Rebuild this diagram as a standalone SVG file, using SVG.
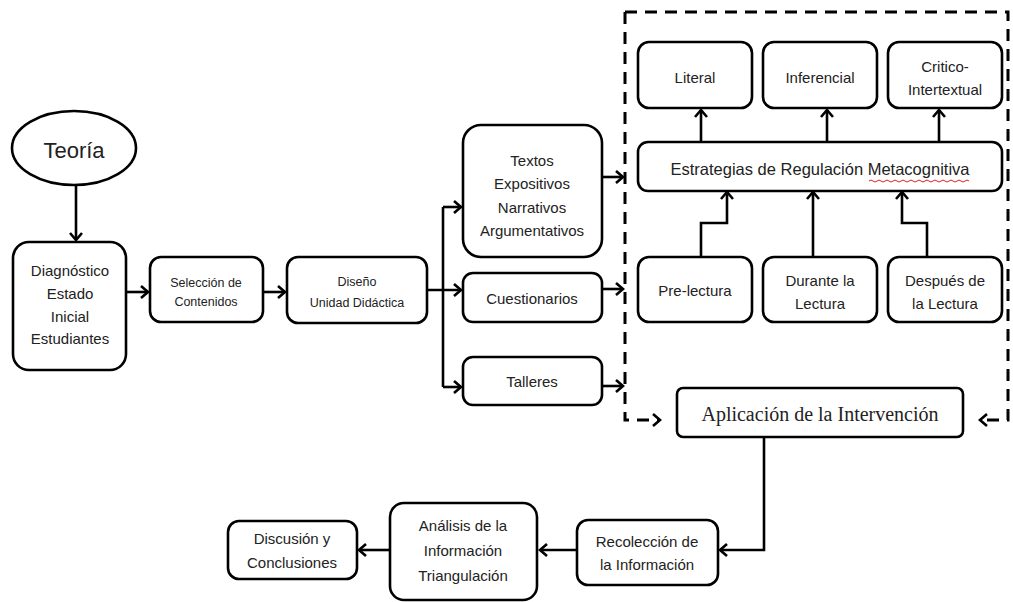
<svg xmlns="http://www.w3.org/2000/svg" width="1013" height="602" viewBox="0 0 1013 602">
<defs>
<marker id="ah" markerUnits="userSpaceOnUse" markerWidth="14" markerHeight="16" refX="10" refY="7" orient="auto">
<path d="M3,1 L10,7 L3,13" fill="none" stroke="#000" stroke-width="2.6" stroke-linejoin="miter"/>
</marker>
</defs>
<style>
.b{fill:#fff;stroke:#000;stroke-width:2.6}
.t{font-family:"Liberation Sans",Arial,sans-serif;font-size:15px;fill:#222;text-anchor:middle;dominant-baseline:central}
.s{font-size:12.5px}
.c{fill:none;stroke:#000;stroke-width:2.6}
.d{fill:none;stroke:#000;stroke-width:3;stroke-dasharray:12 8}
</style>
<rect width="1013" height="602" fill="#fff"/>
<g id="connectors">
<path class="c" d="M76,185 V240" marker-end="url(#ah)"/>
<path class="c" d="M126,292 H148" marker-end="url(#ah)"/>
<path class="c" d="M263,292 H285" marker-end="url(#ah)"/>
<path class="c" d="M427,290 H461" marker-end="url(#ah)"/>
<path class="c" d="M443,207 V387"/>
<path class="c" d="M443,207 H461" marker-end="url(#ah)"/>
<path class="c" d="M443,387 H461" marker-end="url(#ah)"/>
<path class="c" d="M602,177 H623" marker-end="url(#ah)"/>
<path class="c" d="M602,289 H623" marker-end="url(#ah)"/>
<path class="c" d="M602,386 H623" marker-end="url(#ah)"/>
<path class="c" d="M701,142 V110" marker-end="url(#ah)"/>
<path class="c" d="M827,142 V110" marker-end="url(#ah)"/>
<path class="c" d="M939,142 V110" marker-end="url(#ah)"/>
<path class="c" d="M701,257 V223 H727 V192" marker-end="url(#ah)"/>
<path class="c" d="M813,257 V192" marker-end="url(#ah)"/>
<path class="c" d="M927,257 V223 H902 V192" marker-end="url(#ah)"/>
<path class="d" d="M625,12 V420 H660" marker-end="url(#ah)"/>
<path class="d" d="M625,12 H1008 V420 H980" marker-end="url(#ah)"/>
<path class="c" d="M764,437 V550 H720" marker-end="url(#ah)"/>
<path class="c" d="M577,550 H540" marker-end="url(#ah)"/>
<path class="c" d="M390,550 H359" marker-end="url(#ah)"/>
</g>
<g id="teoria"><ellipse class="b" cx="74" cy="148" rx="62" ry="37"/><text class="t" x="74" y="150" style="font-size:22px">Teoría</text></g>
<g id="diagnostico"><rect class="b" x="13" y="242" width="113" height="128" rx="16"/>
<text class="t" x="70" y="270">Diagnóstico</text><text class="t" x="70" y="293">Estado</text><text class="t" x="70" y="316">Inicial</text><text class="t" x="70" y="338">Estudiantes</text></g>
<g id="seleccion"><rect class="b" x="150" y="257" width="113" height="65" rx="11"/>
<text class="t s" x="206" y="283">Selección de</text><text class="t s" x="206" y="302">Contenidos</text></g>
<g id="diseno"><rect class="b" x="287" y="257" width="140" height="66" rx="11"/>
<text class="t s" x="357" y="282">Diseño</text><text class="t s" x="357" y="303">Unidad Didáctica</text></g>
<g id="textos"><rect class="b" x="463" y="125" width="139" height="132" rx="18"/>
<text class="t" x="532" y="160">Textos</text><text class="t" x="532" y="183">Expositivos</text><text class="t" x="532" y="207">Narrativos</text><text class="t" x="532" y="230">Argumentativos</text></g>
<g id="cuestionarios"><rect class="b" x="463" y="273" width="139" height="49" rx="10"/><text class="t" x="532" y="298">Cuestionarios</text></g>
<g id="talleres"><rect class="b" x="463" y="357" width="139" height="48" rx="10"/><text class="t" x="532" y="381">Talleres</text></g>
<g id="literal"><rect class="b" x="638" y="42" width="114" height="66" rx="11"/><text class="t" x="695" y="77">Literal</text></g>
<g id="inferencial"><rect class="b" x="763" y="42" width="114" height="66" rx="11"/><text class="t" x="820" y="77">Inferencial</text></g>
<g id="critico"><rect class="b" x="888" y="42" width="114" height="66" rx="11"/><text class="t" x="945" y="66">Critico-</text><text class="t" x="945" y="89">Intertextual</text></g>
<g id="estrategias"><rect class="b" x="638" y="142" width="364" height="49" rx="10"/><text class="t" x="820" y="169" style="font-size:16.5px">Estrategias de Regulación Metacognitiva</text>
<path d="M869,181 q2,-2 4,0 t4,0 t4,0 t4,0 t4,0 t4,0 t4,0 t4,0 t4,0 t4,0 t4,0 t4,0 t4,0 t4,0 t4,0 t4,0 t4,0 t4,0 t4,0 t4,0 t4,0 t4,0 t4,0 t4,0 t4,0" fill="none" stroke="#e02020" stroke-width="1"/></g>
<g id="prelectura"><rect class="b" x="638" y="257" width="114" height="65" rx="11"/><text class="t" x="695" y="290">Pre-lectura</text></g>
<g id="durante"><rect class="b" x="763" y="257" width="114" height="65" rx="11"/><text class="t" x="820" y="280">Durante la</text><text class="t" x="820" y="303">Lectura</text></g>
<g id="despues"><rect class="b" x="888" y="257" width="114" height="65" rx="11"/><text class="t" x="945" y="280">Después de</text><text class="t" x="945" y="303">la Lectura</text></g>
<g id="aplicacion"><rect class="b" x="677" y="388" width="286" height="49" rx="6"/><text class="t" x="820" y="414" style="font-family:'Liberation Serif','Times New Roman',serif;font-size:20px">Aplicación de la Intervención</text></g>
<g id="recoleccion"><rect class="b" x="577" y="520" width="141" height="65" rx="11"/><text class="t" x="647" y="541">Recolección de</text><text class="t" x="647" y="564">la Información</text></g>
<g id="analisis"><rect class="b" x="390" y="503" width="147" height="97" rx="14"/><text class="t" x="463" y="525">Análisis de la</text><text class="t" x="463" y="550">Información</text><text class="t" x="463" y="575">Triangulación</text></g>
<g id="discusion"><rect class="b" x="228" y="521" width="129" height="58" rx="11"/><text class="t" x="292" y="538">Discusión y</text><text class="t" x="292" y="562">Conclusiones</text></g>
</svg>
